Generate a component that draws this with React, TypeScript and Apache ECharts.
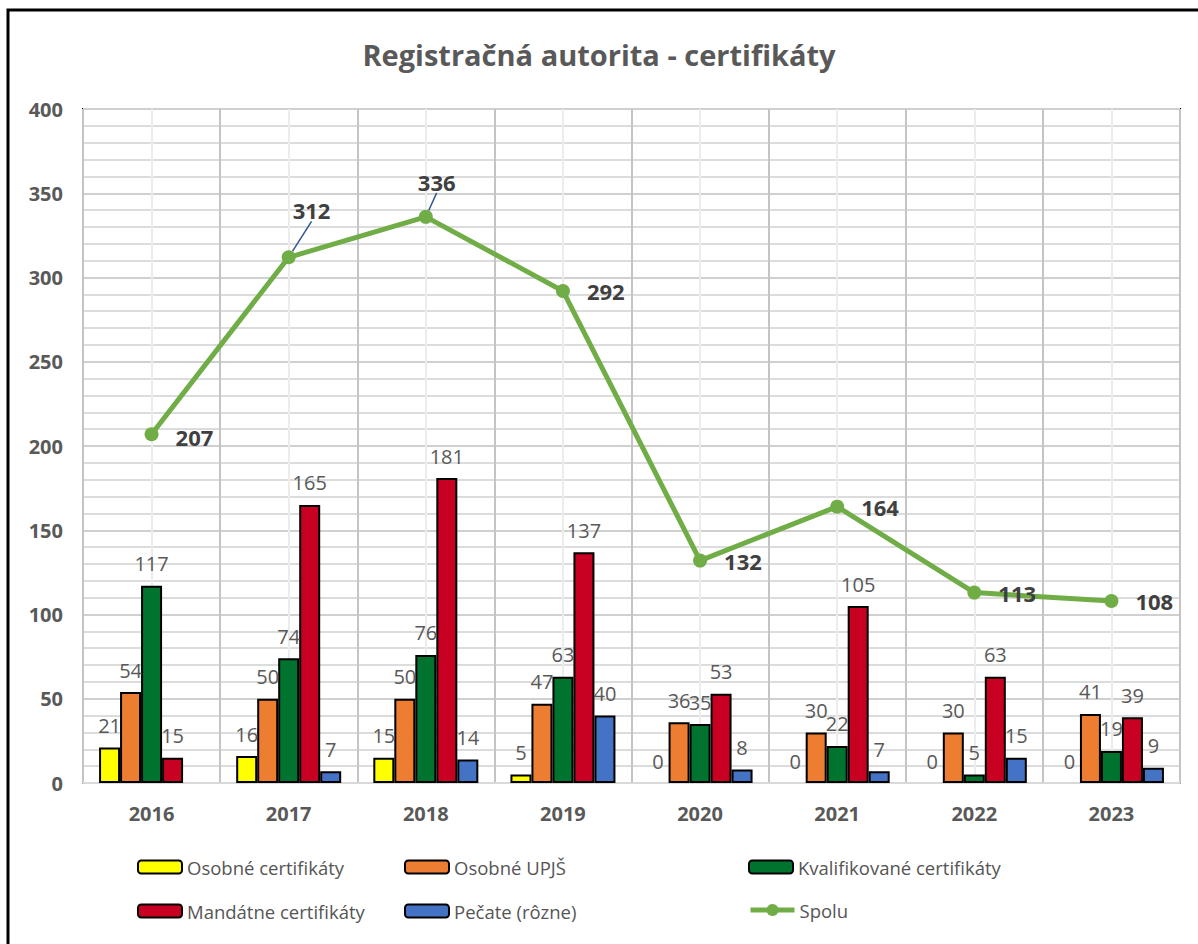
import React, { useEffect, useRef } from "react";
import * as echarts from "echarts";

const categories = ["2016", "2017", "2018", "2019", "2020", "2021", "2022", "2023"];
const osobneCert = [21, 16, 15, 5, 0, 0, 0, 0];
const osobneUpjs = [54, 50, 50, 47, 36, 30, 30, 41];
const kvalifikovane = [117, 74, 76, 63, 35, 22, 5, 19];
const mandatne = [15, 165, 181, 137, 53, 105, 63, 39];
const pecate = [null, 7, 14, 40, 8, 7, 15, 9];
const spolu = [207, 312, 336, 292, 132, 164, 113, 108];
const yTicks = { min: 0, max: 400, interval: 50 };

const FONT = "Open Sans";

export default function App() {
  const ref = useRef<HTMLDivElement>(null);
  useEffect(() => {
    if (!ref.current) return;
    const chart = echarts.init(ref.current, null, { renderer: "svg" });
    const barLabel = {
      show: true,
      position: "top",
      distance: 12,
      fontFamily: FONT,
      fontSize: 20,
      color: "#595959",
    };
    const bar = (name: string, data: (number | null)[], color: string) => ({
      name,
      type: "bar",
      data: data.map((v) =>
        v === 0 ? { value: v, itemStyle: { borderWidth: 0 } } : v
      ),
      barWidth: 21,
      barGap: "0%",
      itemStyle: { color, borderColor: "#000", borderWidth: 2 },
      label: barLabel,
      z: 3,
    });
    const legendBase = {
      orient: "vertical",
      top: 857,
      padding: 0,
      itemWidth: 44,
      itemHeight: 13,
      itemGap: 24,
      textStyle: { fontFamily: FONT, fontSize: 18.5, color: "#555555", lineHeight: 20 },
    };
    const option = {
      animation: false,
      backgroundColor: "#fff",
      textStyle: { fontFamily: FONT },
      title: {
        text: "Registračná autorita - certifikáty",
        left: "center",
        top: 35,
        textStyle: { fontFamily: FONT, fontSize: 29, fontWeight: "bold", color: "#595959" },
      },
      graphic: [
        {
          type: "rect",
          z: -10,
          shape: { x: 8, y: 10, width: 1400, height: 1200 },
          style: { fill: "none", stroke: "#000", lineWidth: 3 },
        },
      ],
      legend: [
        { ...legendBase, left: 137, data: ["Osobné certifikáty", "Mandátne certifikáty"] },
        { ...legendBase, left: 404, data: ["Osobné UPJŠ", "Pečate (rôzne)"] },
        { ...legendBase, left: 748, data: ["Kvalifikované certifikáty"] },
        {
          ...legendBase,
          left: 748,
          top: 900,
          itemHeight: 15,
          lineStyle: { width: 5, color: "#70ad47" },
          data: [{ name: "Spolu", lineStyle: { width: 5 } }],
        },
      ],
      grid: {
        left: 83,
        top: 109,
        right: 18,
        bottom: 161,
        show: true,
        borderColor: "#000",
        borderWidth: 2,
      },
      xAxis: [
        {
          type: "category",
          data: categories,
          z: 2,
          axisLine: { show: true, lineStyle: { color: "#d9d9d9", width: 2 } },
          axisTick: { show: false },
          splitLine: { show: true, lineStyle: { color: "#c4c4c4", width: 2 } },
          axisLabel: {
            margin: 20,
            fontFamily: FONT,
            fontSize: 20,
            fontWeight: "bold",
            color: "#595959",
          },
        },
        {
          type: "value",
          position: "bottom",
          min: 0,
          max: 16,
          interval: 1,
          axisLine: { show: false },
          axisTick: { show: false },
          axisLabel: { show: false },
          splitLine: { show: true, lineStyle: { color: ["transparent", "#ececec"], width: 2 } },
        },
      ],
      yAxis: {
        type: "value",
        min: yTicks.min,
        max: yTicks.max,
        interval: yTicks.interval,
        axisLine: { show: false },
        axisTick: { show: false },
        splitLine: { show: true, lineStyle: { color: "#d0d0d0", width: 2 } },
        minorTick: { show: false, splitNumber: 5 },
        minorSplitLine: { show: true, lineStyle: { color: "#dcdcdc", width: 2 } },
        axisLabel: {
          margin: 20,
          fontFamily: FONT,
          fontSize: 20,
          fontWeight: "bold",
          color: "#595959",
        },
      },
      series: [
        bar("Osobné certifikáty", osobneCert, "#ffff00"),
        bar("Osobné UPJŠ", osobneUpjs, "#ed7d31"),
        bar("Kvalifikované certifikáty", kvalifikovane, "#00732f"),
        bar("Mandátne certifikáty", mandatne, "#c80021"),
        bar("Pečate (rôzne)", pecate, "#4472c4"),
        {
          name: "Spolu",
          type: "line",
          data: spolu.map((v, i) => ({
            value: v,
            labelLine: { show: i === 1 || i === 2 },
          })),
          z: 5,
          symbol: "circle",
          symbolSize: 14,
          itemStyle: { color: "#70ad47" },
          lineStyle: { color: "#70ad47", width: 5 },
          label: {
            show: true,
            position: "right",
            distance: 17,
            fontFamily: FONT,
            fontSize: 22,
            fontWeight: "bold",
            color: "#404040",
          },
          labelLine: { show: false, lineStyle: { color: "#2f5597", width: 1.5 } },
          labelLayout: (params: any) => {
            if (params.dataIndex === 1) return { dx: -20, dy: -47 };
            if (params.dataIndex === 2) return { dx: -32, dy: -35 };
            if (params.dataIndex === 0) return { dy: 3 };
            return {};
          },
        },
      ],
    };
    chart.setOption(option as any);
    return () => chart.dispose();
  }, []);
  return (
    <div
      ref={ref}
      style={{ position: "absolute", left: 0, top: 0, width: 1198, height: 944 }}
    />
  );
}
